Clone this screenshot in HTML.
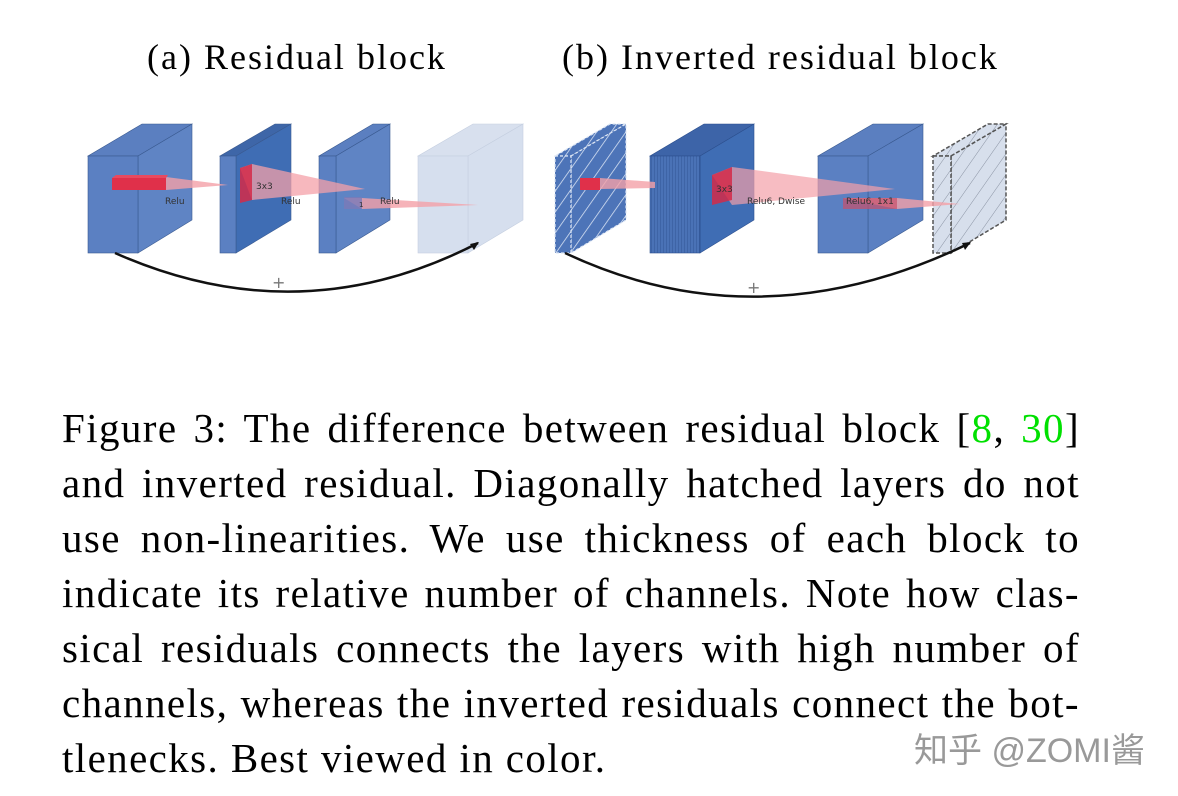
<!DOCTYPE html>
<html><head><meta charset="utf-8"><style>
html,body{margin:0;padding:0;background:#fff;}
body{width:1178px;height:796px;position:relative;overflow:hidden;font-family:"Liberation Serif",serif;}
.t{position:absolute;font-size:36px;letter-spacing:2px;color:#000;white-space:nowrap;}
.cap{position:absolute;left:62px;top:401px;width:1018px;font-size:41px;letter-spacing:1.4px;line-height:55px;color:#000;}
.cap div{text-align:justify;text-align-last:justify;white-space:nowrap;}
.cap div.last{text-align-last:left;}
.g{color:#00e000;}
.wm{position:absolute;left:914px;top:723px;font-family:"Liberation Sans","Noto Sans CJK SC",sans-serif;font-size:34px;color:#999;}
</style></head><body>
<div class="t" style="left:147px;top:36px;">(a) Residual block</div>
<div class="t" style="left:562px;top:36px;">(b) Inverted residual block</div>
<svg width="1178" height="320" style="position:absolute;left:0;top:0" xmlns="http://www.w3.org/2000/svg">
<defs>
<pattern id="hw" width="12" height="12" patternUnits="userSpaceOnUse" patternTransform="rotate(35)"><rect width="12" height="12" fill="#4d74b8"/><line x1="0" y1="0" x2="0" y2="12" stroke="#dfe8f6" stroke-width="1.5"/></pattern>
<pattern id="hg" width="12" height="12" patternUnits="userSpaceOnUse" patternTransform="rotate(35)"><rect width="12" height="12" fill="#d7dfec"/><line x1="0" y1="0" x2="0" y2="12" stroke="#8a93a3" stroke-width="1"/></pattern>
<pattern id="vl" width="3" height="10" patternUnits="userSpaceOnUse"><rect width="3" height="10" fill="#4a72b6"/><line x1="0" y1="0" x2="0" y2="10" stroke="#2c4f8e" stroke-width="0.8"/></pattern>
</defs>
<g stroke="#3a5a90" stroke-width="0.6">
<polygon points="88,156 138,156 192,124 142,124" fill="#5b7fc0"/>
<polygon points="138,156 192,124 192,220 138,253" fill="#5f84c4"/>
<rect x="88" y="156" width="50" height="97" fill="#5b80c2"/>
<polygon points="220,156 236,156 291,124 275,124" fill="#3e66a8"/>
<polygon points="236,156 291,124 291,220 236,253" fill="#3f6db4"/>
<rect x="220" y="156" width="16" height="97" fill="#5b80c2"/>
<polygon points="319,156 336,156 390,124 373,124" fill="#5b7fc0"/>
<polygon points="336,156 390,124 390,220 336,253" fill="#5f84c4"/>
<rect x="319" y="156" width="17" height="97" fill="#5b80c2"/>
</g>
<g stroke="#c5cfe0" stroke-width="0.6">
<polygon points="418,156 468,156 523,124 473,124" fill="#d8e0ee"/>
<polygon points="468,156 523,124 523,220 468,253" fill="#d6dfee"/>
<rect x="418" y="156" width="50" height="97" fill="#d6dfee"/>
</g>
<polygon points="166,177 228,185 166,190" fill="#f4a0a8" opacity="0.8"/>
<rect x="112" y="178" width="54" height="12" fill="#e0304a"/>
<polygon points="112,178 116,175 168,175 166,178" fill="#e84a60"/>
<polygon points="240,168 252,164 365,189 252,200" fill="#f4a0a8" opacity="0.75"/>
<polygon points="240,168 252,164 252,200 240,203" fill="#d42a48" opacity="0.85"/>
<polygon points="344,198 362,198 478,205 362,209" fill="#f4a0a8" opacity="0.8"/>
<rect x="344" y="197" width="18" height="12" fill="#7a7ab8" opacity="0.8"/>
<g font-family="DejaVu Sans,sans-serif" font-size="9" fill="#333">
<text x="165" y="204">Relu</text><text x="256" y="189">3x3</text><text x="281" y="204">Relu</text><text x="359" y="207" font-size="7">1</text><text x="380" y="204">Relu</text>
</g>
<path d="M115,253 Q300,335 478,243" fill="none" stroke="#111" stroke-width="2.5"/>
<polygon points="479,242 470,244 474,250" fill="#111"/>
<text x="272" y="288" font-family="DejaVu Sans,sans-serif" font-size="16" fill="#777">+</text>
<g stroke="#dde6f4" stroke-width="1.2" stroke-dasharray="3,2">
<polygon points="555,156 571,156 626,124 610,124" fill="url(#hw)"/>
<polygon points="571,156 626,124 626,220 571,253" fill="url(#hw)"/>
<rect x="555" y="156" width="16" height="97" fill="url(#hw)"/>
</g>
<g stroke="#2c4f8e" stroke-width="0.6">
<polygon points="650,156 700,156 754,124 704,124" fill="#3d64a8"/>
<polygon points="700,156 754,124 754,220 700,253" fill="#3f6db4"/>
<rect x="650" y="156" width="50" height="97" fill="url(#vl)"/>
</g>
<g stroke="#3a5a90" stroke-width="0.6">
<polygon points="818,156 868,156 923,124 873,124" fill="#5b7fc0"/>
<polygon points="868,156 923,124 923,220 868,253" fill="#5b80c2"/>
<rect x="818" y="156" width="50" height="97" fill="#5b80c2"/>
</g>
<g stroke="#555" stroke-width="1.5" stroke-dasharray="4,2">
<polygon points="933,156 951,156 1006,124 988,124" fill="url(#hg)"/>
<polygon points="951,156 1006,124 1006,220 951,253" fill="url(#hg)"/>
<rect x="933" y="156" width="18" height="97" fill="url(#hg)"/>
</g>
<polygon points="600,178 655,182 655,188 600,189" fill="#f4a0a8" opacity="0.8"/>
<rect x="580" y="178" width="20" height="12" fill="#e0304a"/>
<polygon points="712,175 732,167 895,189 732,205" fill="#f4a0a8" opacity="0.7"/>
<polygon points="712,175 732,167 732,200 712,205" fill="#d42a48" opacity="0.85"/>
<polygon points="843,198 897,198 960,204 897,209" fill="#f4a0a8" opacity="0.8"/>
<rect x="843" y="198" width="54" height="11" fill="#c8506a" opacity="0.7"/>
<g font-family="DejaVu Sans,sans-serif" font-size="9" fill="#333">
<text x="716" y="192">3x3</text><text x="747" y="204">Relu6, Dwise</text><text x="846" y="204">Relu6, 1x1</text>
</g>
<path d="M565,253 Q760,345 970,243" fill="none" stroke="#111" stroke-width="2.5"/>
<polygon points="971,242 962,243 965,250" fill="#111"/>
<text x="747" y="293" font-family="DejaVu Sans,sans-serif" font-size="16" fill="#777">+</text>
</svg>
<div class="cap">
<div>Figure 3: The difference between residual block [<span class="g">8</span>, <span class="g">30</span>]</div>
<div>and inverted residual. Diagonally hatched layers do not</div>
<div>use non-linearities. We use thickness of each block to</div>
<div>indicate its relative number of channels. Note how clas-</div>
<div>sical residuals connects the layers with high number of</div>
<div>channels, whereas the inverted residuals connect the bot-</div>
<div class="last">tlenecks. Best viewed in color.</div>
</div>
<div class="wm">知乎 @ZOMI酱</div>
</body></html>
